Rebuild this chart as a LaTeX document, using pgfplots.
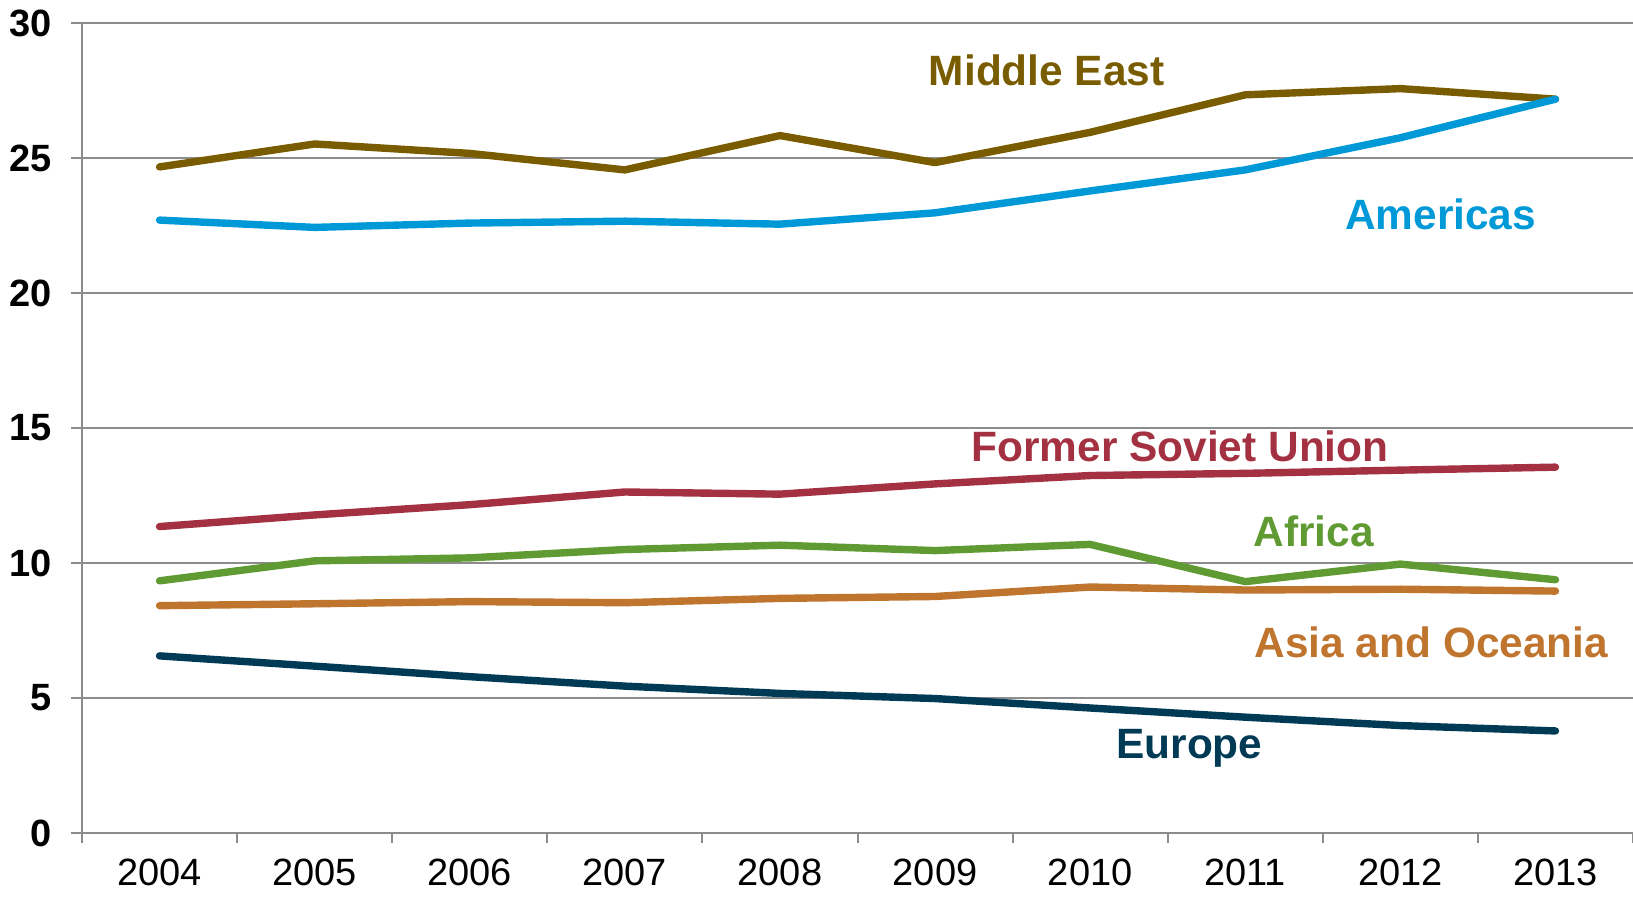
\documentclass[border=0pt]{standalone}
\usepackage{pgfplots}
\pgfplotsset{compat=1.18}
\usepackage{fontspec}
\setmainfont{Liberation Sans}
\definecolor{cME}{HTML}{7A5C00}
\definecolor{cAM}{HTML}{0099D8}
\definecolor{cFSU}{HTML}{A33142}
\definecolor{cAF}{HTML}{5F9B32}
\definecolor{cAS}{HTML}{C0752E}
\definecolor{cEU}{HTML}{003A54}
\definecolor{gridc}{HTML}{8C8C8C}
\begin{document}
\begin{tikzpicture}
\useasboundingbox (0,0) rectangle (816.5pt,448pt);
\begin{axis}[
  at={(41pt,31.5pt)}, anchor=south west,
  scale only axis, width=775.5pt, height=405pt,
  xmin=-0.5, xmax=9.5, ymin=0, ymax=30,
  axis x line*=bottom, axis y line*=left,
  axis line style={gridc, line width=1pt},
  xtick={0,...,9},
  xticklabels={2004,2005,2006,2007,2008,2009,2010,2011,2012,2013},
  minor xtick={-0.5,0.5,...,9.5},
  ytick={0,5,...,30},
  tick align=outside,
  major x tick style={draw=none},
  minor x tick style={gridc, line width=1pt},
  major y tick style={gridc, line width=1pt},
  minor tick length=5pt,
  major tick length=5.5pt,
  ymajorgrids, grid style={gridc, line width=1pt},
  xticklabel style={font=\fontsize{19pt}{22pt}\selectfont, yshift=-6.3pt, inner sep=1pt},
  yticklabel style={font=\fontsize{19pt}{22pt}\selectfont\bfseries, xshift=-6pt},
  /pgf/number format/assume math mode=true,
  every axis plot/.append style={line width=3.7pt, no marks, line join=round, line cap=round},
  clip=false,
]
\addplot[cME] coordinates {(0,24.67)(1,25.52)(2,25.17)(3,24.56)(4,25.83)(5,24.83)(6,25.95)(7,27.34)(8,27.57)(9,27.18)};
\addplot[cAM] coordinates {(0,22.70)(1,22.43)(2,22.59)(3,22.66)(4,22.55)(5,22.97)(6,23.78)(7,24.56)(8,25.75)(9,27.18)};
\addplot[cFSU] coordinates {(0,11.35)(1,11.78)(2,12.16)(3,12.63)(4,12.55)(5,12.93)(6,13.24)(7,13.32)(8,13.44)(9,13.55)};
\addplot[cAF] coordinates {(0,9.34)(1,10.08)(2,10.19)(3,10.50)(4,10.66)(5,10.46)(6,10.69)(7,9.31)(8,9.96)(9,9.38)};
\addplot[cAS] coordinates {(0,8.42)(1,8.49)(2,8.57)(3,8.53)(4,8.69)(5,8.76)(6,9.11)(7,9.00)(8,9.03)(9,8.96)};
\addplot[cEU] coordinates {(0,6.56)(1,6.18)(2,5.79)(3,5.44)(4,5.17)(5,4.98)(6,4.63)(7,4.29)(8,3.98)(9,3.78)};
\tikzset{lab/.style={font=\fontsize{21.2pt}{25pt}\selectfont\bfseries, inner sep=0pt}}
\node[lab, text=cME] at (axis cs:5.72,28.26) {Middle East};
\node[lab, text=cAM] at (axis cs:8.26,22.93) {Americas};
\node[lab, text=cFSU] at (axis cs:6.58,14.32) {Former Soviet Union};
\node[lab, text=cAF] at (axis cs:7.44,11.16) {Africa};
\node[lab, text=cAS] at (axis cs:8.20,7.07) {Asia and Oceania};
\node[lab, text=cEU] at (axis cs:6.64,3.13) {Europe};
\end{axis}
\end{tikzpicture}
\end{document}
